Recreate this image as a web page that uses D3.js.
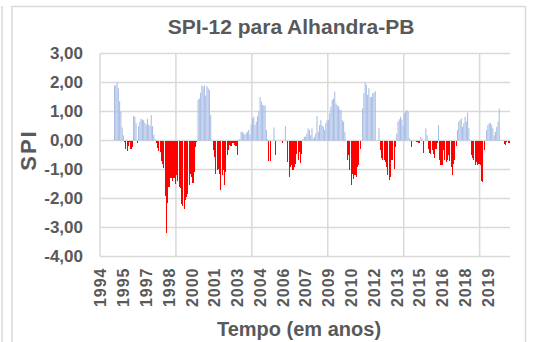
<!DOCTYPE html>
<html>
<head>
<meta charset="utf-8">
<script src="https://cdn.jsdelivr.net/npm/d3@7"></script>
<style>
  html, body { margin: 0; padding: 0; background: #fff; }
  svg { display: block; }
  text { font-family: "Liberation Sans", Arial, sans-serif; font-weight: bold; fill: #595959; }
</style>
</head>
<body>
<svg id="chart" width="535" height="342"></svg>
<script>
// Monthly SPI-12 series, Jan 1994 – Dec 2020 (first 11 months have no 12-month window)
const startYear = 1994;
const spiValues = [
  null, null, null, null, null, null, null, null, null, null, null, 1.90,
  1.90, 2.00, 1.80, 1.35, 1.00, 0.45, 0.18, -0.05, -0.30, -0.35, -0.20, -0.05,
  -0.28, -0.22, 0.85, 0.82, 0.60, -0.10, 0.50, 0.65, 0.75, 0.72, 0.70, 0.60,
  0.55, 0.75, 0.55, 0.50, 0.88, 0.50, 0.20, 0.05, -0.10, -0.25, -0.35, -0.40,
  -0.70, -0.80, -0.95, -1.90, -3.20, -2.15, -1.60, -1.30, -1.30, -1.40, -1.30, -1.50,
  -1.20, -1.40, -1.60, -1.65, -2.20, -2.25, -2.35, -2.05, -1.95, -1.85, -1.55, -1.15,
  -1.25, -1.45, -1.10, -0.22, -0.05, 1.40, 1.45, 1.65, 1.90, 1.85, 1.90, 1.55,
  1.88, 1.80, 1.75, 0.88, 0.02, -0.33, -0.57, -1.15, -1.03, -0.97, -1.15, -1.70,
  -1.20, -1.03, -1.55, -1.09, -0.50, -0.33, -0.16, -0.20, -0.08, -0.10, -0.16, -0.20,
  -0.50, 0.02, 0.05, 0.30, 0.30, 0.24, 0.20, 0.25, 0.30, 0.36, 0.20, 0.55,
  0.76, 0.82, 0.53, 0.65, 0.84, 1.00, 1.50, 1.34, 1.22, 1.22, 1.20, 0.36,
  0.05, -0.70, -0.70, 0.00, 0.00, 0.45, -0.50, -0.02, -0.03, -0.02, -0.03, -0.02,
  -0.10, 0.00, 0.50, 0.00, -0.74, -1.26, -0.91, -0.85, -1.00, -0.91, -0.80, -0.45,
  -0.68, -0.40, -0.77, -0.45, 0.05, 0.13, 0.13, 0.24, 0.42, 0.36, 0.18, 0.42,
  0.07, 0.13, 0.24, 0.84, 0.30, 0.53, 0.70, 0.53, 0.47, 0.36, 0.60, 0.70,
  0.70, 0.94, 1.17, 1.40, 1.45, 1.69, 1.28, 1.22, 1.17, 1.07, 1.05, 0.70,
  0.65, 0.30, 0.00, -0.68, -0.50, -1.03, -1.55, -1.15, -1.32, -1.20, -1.26, -0.90,
  -0.85, -0.28, 0.00, 1.10, 1.63, 2.00, 1.92, 1.57, 1.80, 1.50, 1.50, 1.63,
  1.65, 1.70, 0.00, 0.00, 0.42, -0.33, -0.62, -0.66, -0.68, -0.74, -0.91, -1.20,
  -1.35, -1.26, -0.68, -0.68, -0.97, -0.22, 0.24, 0.65, 0.73, 0.82, 0.73, 0.50,
  0.94, 1.00, 1.05, 1.00, 0.07, 0.02, -0.22, 0.02, -0.03, -0.02, -0.05, -0.10,
  -0.10, 0.13, 0.07, -0.43, 0.00, 0.42, 0.18, -0.28, -0.43, -0.47, -0.33, -0.45,
  -0.62, -0.31, -0.10, 0.53, -0.68, -0.85, -0.85, -0.33, -0.68, -0.74, -0.68, -0.50,
  -0.70, -0.91, -1.20, -0.80, -0.68, -0.20, 0.36, 0.65, 0.70, 0.76, 0.47, 0.59,
  0.82, 0.65, 0.96, 0.42, 0.00, -0.50, -0.62, -0.68, -0.85, -0.74, -0.85, -0.80,
  -0.85, -1.38, -1.43, -0.33, 0.00, 0.36, 0.53, 0.59, 0.61, 0.53, 0.42, 0.18,
  0.30, 0.47, 0.65, 1.10, 0.00, 0.00, 0.00, -0.13, -0.16, -0.05, -0.08, -0.10
];
// Year labels shown every 18 months along the category axis
const yearLabels = ["1994", "1995", "1997", "1998", "2000", "2001", "2003", "2004", "2006",
                    "2007", "2009", "2010", "2012", "2013", "2015", "2016", "2018", "2019"];
const yTicks = [3, 2, 1, 0, -1, -2, -3, -4];
const labelEvery = 18;
const gridEvery = 60;

const months = spiValues.map((v, i) => ({ i, v, year: startYear + Math.floor(i / 12), month: i % 12 + 1 }));

const svg = d3.select("#chart");
const plot = { left: 100, right: 510, top: 53.5, bottom: 256.5 };

// chart frame
svg.append("line").attr("x1", 2).attr("x2", 2).attr("y1", 6).attr("y2", 342)
  .attr("stroke", "#d9d9d9").attr("stroke-width", 1.5);
svg.append("rect").attr("x", 12).attr("y", 6.5).attr("width", 513.5).attr("height", 345)
  .attr("fill", "none").attr("stroke", "#d9d9d9").attr("stroke-width", 1.5);

const pad = 0.15;
const x = d3.scaleBand().domain(months.map(d => d.i))
  .range([plot.left, plot.right]).paddingInner(pad).paddingOuter(pad / 2);
const y = d3.scaleLinear().domain([-4, 3]).range([plot.bottom, plot.top]);
const edge = i => x(i) - x.step() * pad / 2;

const fmt0 = d3.formatLocale({ decimal: ",", thousands: ".", grouping: [3], currency: ["R$", ""], minus: "-" }).format(".2f");

// horizontal gridlines
svg.append("g").selectAll("line").data(yTicks).join("line")
  .attr("x1", plot.left).attr("x2", plot.right)
  .attr("y1", d => y(d)).attr("y2", d => y(d))
  .attr("stroke", "#d9d9d9").attr("stroke-width", 1.5);

// vertical gridlines every 60 months
svg.append("g").selectAll("line").data(d3.range(0, months.length, gridEvery)).join("line")
  .attr("x1", d => edge(d)).attr("x2", d => edge(d))
  .attr("y1", plot.top).attr("y2", plot.bottom)
  .attr("stroke", "#d9d9d9").attr("stroke-width", 1.5);

// bars: wet months in pale blue, dry months in red
const valid = months.filter(d => d.v !== null);
svg.append("g").selectAll("rect").data(valid.filter(d => d.v >= 0)).join("rect")
  .attr("x", d => x(d.i)).attr("width", x.bandwidth())
  .attr("y", d => y(d.v)).attr("height", d => y(0) - y(d.v))
  .attr("fill", "#a9bee5");
svg.append("g").selectAll("rect").data(valid.filter(d => d.v < 0)).join("rect")
  .attr("x", d => x(d.i)).attr("width", x.bandwidth())
  .attr("y", y(0)).attr("height", d => y(d.v) - y(0))
  .attr("fill", "#ff0000").attr("shape-rendering", "crispEdges");

// y axis labels
const yAxis = svg.append("g").attr("transform", `translate(${plot.left},0)`)
  .call(d3.axisLeft(y).tickValues(yTicks).tickFormat(fmt0).tickSize(0).tickPadding(17));
yAxis.select(".domain").remove();
yAxis.selectAll("text").attr("font-size", 17)
  .attr("fill", "#595959").attr("font-family", "Liberation Sans, Arial, sans-serif");

// x axis labels
const xAxis = svg.append("g").attr("transform", `translate(0,${plot.bottom})`)
  .call(d3.axisBottom(x).tickValues(d3.range(0, months.length, labelEvery))
    .tickFormat((d, k) => yearLabels[k]).tickSize(0));
xAxis.select(".domain").remove();
xAxis.selectAll("text")
  .attr("font-size", 16).attr("letter-spacing", 1)
  .attr("fill", "#595959").attr("font-family", "Liberation Sans, Arial, sans-serif")
  .attr("text-anchor", "end").attr("transform", "rotate(-90)")
  .attr("x", -11).attr("y", 0).attr("dy", "0.36em");

// titles
svg.append("text").attr("x", 291).attr("y", 34).attr("text-anchor", "middle")
  .attr("font-size", 21).text("SPI-12 para Alhandra-PB");
svg.append("text").attr("transform", "translate(36,150) rotate(-90)").attr("text-anchor", "middle")
  .attr("font-size", 22).attr("letter-spacing", 2).text("SPI");
svg.append("text").attr("x", 299).attr("y", 336).attr("text-anchor", "middle")
  .attr("font-size", 20).text("Tempo (em anos)");
</script>
</body>
</html>
